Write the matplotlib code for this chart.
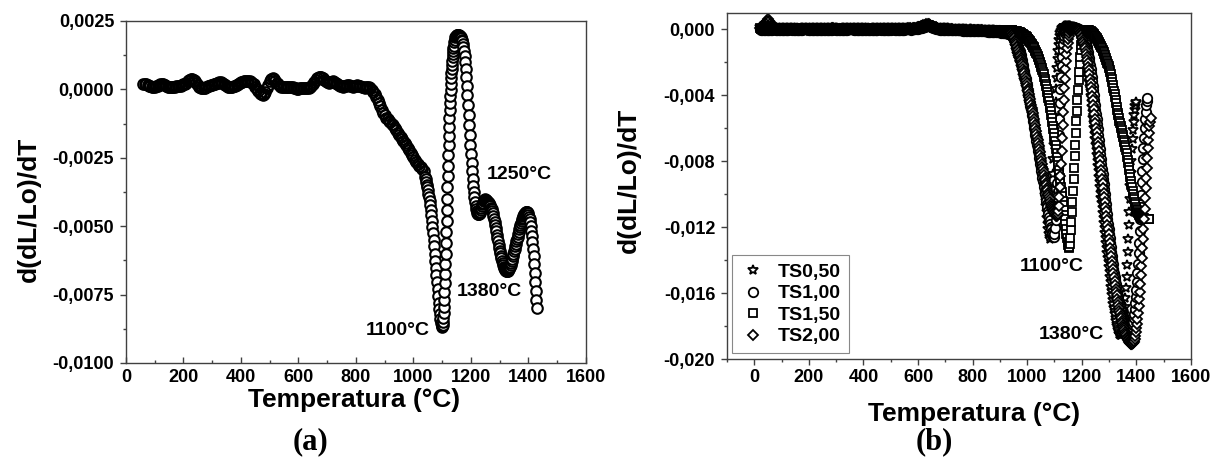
import numpy as np
import matplotlib
matplotlib.use("Agg")
from matplotlib import pyplot as plt
from matplotlib.ticker import MultipleLocator, FuncFormatter

plt.rcParams['font.family'] = ['Liberation Sans', 'DejaVu Sans']
plt.rcParams['font.weight'] = 'bold'
# keep every sample as its own marker
plt.rcParams['path.simplify'] = False

# ---- (a) single sample: temperature grid, denser where the curve moves fast
temp_a = np.concatenate([np.arange(60, 1040, 5), np.arange(1040, 1100, 2),
                         np.arange(1100, 1140, 1), np.arange(1140, 1432, 2)])
# d(dL/Lo)/dT, units of 1e-5
dl_a = np.array([
    18, 20, 19, 16, 13, 11, 9, 8, 9, 11, 14, 16, 18, 19, 18, 15, 12, 10, 9, 8,
    8, 9, 10, 11, 12, 12, 13, 15, 18, 21, 25, 30, 35, 38, 39, 36, 30, 23, 16, 10,
    6, 4, 4, 6, 9, 11, 13, 15, 17, 19, 21, 23, 25, 26, 26, 24, 20, 15, 11, 8,
    7, 8, 10, 12, 14, 17, 20, 23, 26, 28, 30, 31, 31, 30, 29, 27, 24, 18, 10, 2,
    -6, -12, -17, -19, -16, -8, 4, 17, 29, 37, 40, 38, 32, 25, 18, 13, 10, 8, 7, 7,
    8, 9, 10, 9, 7, 5, 4, 3, 3, 4, 5, 6, 6, 5, 5, 6, 8, 12, 18, 26,
    34, 41, 45, 47, 46, 42, 36, 30, 26, 25, 26, 28, 29, 28, 25, 21, 17, 13, 11, 10,
    11, 13, 15, 15, 13, 11, 10, 11, 13, 15, 14, 12, 9, 7, 6, 7, 8, 7, 4, -1,
    -8, -17, -27, -38, -50, -62, -74, -85, -95, -103, -110, -116, -121, -126, -132,
    -140, -149, -158, -166, -173,
    -180, -187, -195, -204, -213, -222, -231, -240, -249, -258, -266, -273, -279, -285,
    -292, -300,
    # 1040-1098
    -320, -329, -338, -348, -358, -369, -381, -394, -408, -423, -440, -459, -480, -502,
    -525, -549, -574, -600, -626, -652, -678, -704, -730, -755, -779, -801, -821, -839,
    -853, -863,
    # 1100-1139
    -868, -866, -860, -850, -836, -818, -796, -770, -741, -709, -675, -639, -601, -562,
    -522, -481, -440, -399, -358, -318, -279, -241, -204, -169, -136, -105, -76, -49,
    -24, -1, 20, 40, 58, 75, 90, 104, 117, 129, 140, 150,
    # 1140-1430
    159, 172, 182, 190, 195, 198, 200, 200, 199, 198,
    196, 194, 191, 187, 182, 175, 166, 155, 140, 122,
    100, 74, 45, 13, -21, -57, -94, -131, -167, -202,
    -236, -268, -298, -326, -352, -375, -395, -412, -426, -437,
    -445, -451, -455, -456, -455, -452, -447, -441, -434, -427,
    -420, -414, -409, -405, -403, -402, -403, -405, -408, -411,
    -414, -417, -420, -423, -427, -432, -438, -445, -453, -462,
    -472, -483, -495, -507, -519, -531, -543, -555, -567, -578,
    -589, -599, -609, -618, -627, -635, -642, -648, -653, -657,
    -660, -662, -663, -663, -662, -660, -657, -653, -648, -642,
    -635, -627, -619, -610, -601, -592, -583, -574, -565, -556,
    -547, -538, -529, -520, -511, -503, -495, -488, -481, -475,
    -469, -464, -459, -455, -452, -450, -449, -449, -450, -453,
    -458, -465, -474, -486, -500, -517, -536, -557, -582, -610,
    -640, -672, -705, -737, -769, -800,
]) * 1e-5

# ---- (b) four compositions, same units; 5 degC steps on the plateau, 2 degC after
temp_flat = np.arange(20, 940, 5)
temp_ts050 = np.concatenate([temp_flat, np.arange(940, 1401, 2)])
temp_ts100 = np.concatenate([temp_flat, np.arange(940, 1441, 2)])
temp_ts150 = np.concatenate([temp_flat, np.arange(940, 1449, 2)])
temp_ts200 = np.concatenate([temp_flat, np.arange(940, 1453, 2)])

ts050 = np.array([
    10, 9, 8, 7, 6, 6, 5, 5, 6, 7, 8, 9, 9, 8, 7, 6, 5, 4, 4, 5,
    6, 7, 8, 8, 7, 6, 5, 4, 3, 3, 4, 5, 6, 7, 8, 9, 9, 8, 7, 6,
    5, 5, 6, 7, 8, 8, 7, 6, 5, 4, 4, 5, 6, 7, 7, 6, 5, 4, 3, 3,
    4, 5, 6, 7, 8, 9, 9, 8, 7, 6, 5, 5, 6, 7, 8, 8, 7, 6, 5, 4,
    3, 3, 4, 5, 6, 7, 8, 8, 7, 6, 5, 4, 4, 5, 6, 7, 8, 9, 8, 7,
    6, 5, 5, 6, 7, 8, 8, 7, 6, 5, 5, 6, 7, 8, 9, 10, 11, 12, 13, 15,
    18, 21, 24, 26, 25, 22, 18, 14, 11, 9, 8, 7, 7, 6, 6, 5, 5, 4, 4, 3,
    3, 2, 2, 1, 1, 0, 0, -1, -1, -2, -2, -2, -3, -3, -2, -2, -3, -4, -4, -5,
    -5, -6, -6, -5, -5, -6, -7, -7, -8, -8, -7, -8, -9, -10, -10, -11, -12, -12, -13, -14,
    -16, -18, -21, -25,
    # 940-1400
    -30, -34, -40, -50, -60, -70, -80, -90, -100, -112,
    -125, -137, -150, -160, -170, -180, -190, -203, -215, -228,
    -240, -254, -268, -282, -296, -310, -324, -338, -352, -366,
    -380, -395, -410, -425, -440, -454, -468, -482, -497, -513,
    -530, -546, -563, -580, -596, -613, -630, -646, -663, -680,
    -697, -713, -730, -754, -778, -802, -826, -850, -874, -898,
    -922, -946, -970, -1005, -1040, -1075, -1110, -1145, -1180, -1213,
    -1245, -1262, -1270, -1215, -1140, -1055, -970, -880, -790, -700,
    -610, -525, -440, -365, -295, -235, -180, -135, -95, -65,
    -40, -24, -10, -2, 5, 9, 12, 14, 16, 17,
    18, 19, 20, 20, 20, 20, 19, 18, 17, 16,
    15, 14, 13, 12, 11, 10, 9, 8, 7, 6,
    4, 1, -2, -5, -8, -12, -16, -21, -27, -34,
    -42, -53, -65, -80, -95, -112, -130, -150, -170, -192,
    -215, -240, -265, -292, -320, -349, -378, -409, -440, -472,
    -505, -537, -570, -602, -635, -667, -700, -732, -765, -797,
    -830, -862, -895, -927, -960, -991, -1022, -1053, -1084, -1114,
    -1145, -1175, -1205, -1235, -1265, -1295, -1325, -1355, -1385, -1415,
    -1445, -1475, -1505, -1534, -1562, -1589, -1615, -1640, -1665, -1688,
    -1710, -1730, -1750, -1768, -1785, -1800, -1815, -1827, -1838, -1846,
    -1852, -1855, -1855, -1850, -1840, -1822, -1800, -1768, -1730, -1683,
    -1630, -1568, -1500, -1428, -1350, -1272, -1190, -1110, -1030, -950,
    -870, -798, -730, -668, -610, -562, -520, -490, -465, -450,
    -440,
]) * 1e-5

ts100 = np.array([
    -2, -3, -4, -5, -5, -6, -6, -5, -4, -3, -2, -2, -3, -4, -5, -6, -7, -7, -6, -5,
    -4, -3, -2, -2, -3, -4, -5, -6, -6, -5, -4, -3, -2, -1, -1, -2, -3, -4, -5, -6,
    -7, -7, -6, -5, -4, -3, -3, -4, -5, -6, -6, -5, -4, -3, -2, -2, -3, -4, -5, -5,
    -6, -6, -5, -4, -3, -2, -1, -1, -2, -3, -4, -5, -6, -7, -7, -6, -5, -4, -3, -3,
    -4, -5, -6, -6, -5, -4, -3, -2, -2, -3, -4, -5, -6, -6, -5, -4, -3, -2, -2, -3,
    -4, -5, -6, -6, -5, -4, -3, -2, -1, -1, -2, -3, -2, -1, 0, 1, 3, 5, 7, 9,
    12, 15, 18, 20, 19, 16, 12, 8, 4, 1, -1, -2, -3, -3, -4, -4, -5, -5, -6, -6,
    -6, -7, -7, -8, -8, -8, -9, -9, -9, -10, -10, -10, -11, -11, -11, -12, -12, -12, -13, -13,
    -13, -14, -14, -14, -15, -15, -15, -16, -16, -17, -17, -18, -18, -19, -20, -20, -21, -22, -23, -24,
    -25, -27, -29, -32,
    # 940-1440
    -20, -24, -28, -32, -36, -42, -48, -55, -62, -70,
    -78, -86, -95, -105, -115, -125, -135, -147, -160, -175,
    -190, -205, -220, -236, -252, -268, -285, -302, -320, -338,
    -356, -374, -392, -410, -428, -446, -464, -482, -500, -520,
    -540, -560, -580, -600, -620, -640, -660, -680, -700, -720,
    -740, -760, -780, -800, -820, -840, -860, -880, -900, -920,
    -940, -960, -980, -1000, -1020, -1040, -1060, -1080, -1100, -1120,
    -1140, -1160, -1180, -1198, -1215, -1230, -1245, -1255, -1262, -1258,
    -1240, -1206, -1160, -1095, -1020, -935, -840, -740, -640, -543,
    -450, -365, -290, -225, -170, -126, -90, -62, -40, -26,
    -15, -8, -3, 1, 4, 6, 8, 9, 10, 10,
    11, 11, 11, 11, 10, 10, 9, 8, 7, 6,
    5, 4, 2, 0, -2, -4, -6, -9, -12, -16,
    -20, -26, -32, -40, -48, -58, -68, -80, -92, -106,
    -120, -137, -155, -175, -195, -217, -240, -265, -290, -317,
    -345, -372, -400, -429, -458, -488, -518, -548, -578, -609,
    -640, -670, -700, -730, -760, -790, -820, -850, -880, -910,
    -940, -970, -1000, -1030, -1060, -1090, -1120, -1150, -1180, -1210,
    -1240, -1268, -1296, -1323, -1350, -1376, -1402, -1427, -1452, -1476,
    -1500, -1523, -1545, -1565, -1585, -1603, -1620, -1636, -1652, -1666,
    -1680, -1693, -1705, -1717, -1728, -1738, -1748, -1757, -1765, -1773,
    -1780, -1787, -1793, -1799, -1805, -1810, -1815, -1819, -1822, -1822,
    -1820, -1814, -1805, -1792, -1775, -1752, -1725, -1695, -1660, -1622,
    -1580, -1532, -1480, -1422, -1360, -1294, -1225, -1153, -1080, -1005,
    -930, -860, -790, -724, -660, -600, -545, -500, -460, -436,
    -420,
]) * 1e-5

ts150 = np.array([
    4, 3, 2, 1, 1, 2, 3, 4, 4, 3, 2, 1, 0, 0, 1, 2, 3, 4, 5, 5,
    4, 3, 2, 1, 0, -1, -1, 0, 1, 2, 3, 4, 4, 3, 2, 1, 1, 2, 3, 4,
    5, 5, 4, 3, 2, 1, 0, 0, 1, 2, 3, 4, 5, 5, 4, 3, 2, 1, 1, 2,
    3, 4, 4, 3, 2, 1, 0, -1, -1, 0, 1, 2, 3, 4, 5, 5, 4, 3, 2, 1,
    1, 2, 3, 4, 4, 3, 2, 1, 0, 0, 1, 2, 3, 4, 5, 5, 4, 3, 2, 2,
    3, 4, 5, 5, 4, 3, 2, 2, 3, 4, 5, 6, 6, 5, 5, 6, 7, 9, 11, 13,
    16, 19, 22, 24, 23, 20, 16, 12, 9, 7, 5, 4, 4, 3, 3, 2, 2, 1, 1, 0,
    0, 0, -1, -1, -1, -2, -2, -2, -3, -3, -3, -3, -4, -4, -4, -4, -5, -5, -5, -5,
    -6, -6, -6, -6, -7, -7, -7, -7, -8, -8, -8, -8, -8, -9, -9, -9, -9, -9, -9, -9,
    -9, -9, -9, -9,
    # 940-1448
    -8, -8, -9, -9, -10, -10, -11, -11, -12, -13,
    -14, -15, -16, -17, -18, -19, -21, -22, -24, -26,
    -28, -30, -32, -34, -37, -40, -42, -45, -48, -51,
    -55, -58, -62, -66, -70, -74, -79, -84, -89, -94,
    -100, -106, -112, -118, -125, -132, -139, -146, -154, -162,
    -170, -179, -188, -197, -207, -217, -228, -239, -250, -262,
    -275, -288, -302, -317, -332, -348, -364, -382, -400, -419,
    -438, -458, -478, -499, -520, -541, -563, -585, -608, -631,
    -655, -679, -703, -727, -752, -777, -802, -827, -853, -879,
    -905, -931, -958, -985, -1012, -1040, -1068, -1096, -1125, -1153,
    -1182, -1211, -1240, -1267, -1292, -1312, -1325, -1320, -1300, -1265,
    -1220, -1168, -1110, -1047, -980, -910, -840, -770, -700, -630,
    -560, -494, -430, -368, -310, -258, -210, -167, -130, -98,
    -70, -50, -35, -24, -15, -11, -8, -6, -5, -5,
    -6, -7, -8, -9, -11, -13, -15, -17, -20, -23,
    -26, -29, -33, -37, -41, -45, -50, -55, -60, -65,
    -71, -77, -83, -89, -96, -103, -110, -117, -125, -133,
    -141, -149, -158, -167, -176, -185, -195, -205, -215, -225,
    -236, -248, -260, -274, -288, -304, -320, -338, -356, -375,
    -394, -413, -432, -451, -470, -488, -506, -523, -540, -556,
    -572, -586, -600, -614, -628, -642, -656, -671, -686, -702,
    -718, -736, -754, -774, -794, -815, -836, -857, -878, -899,
    -920, -940, -960, -979, -998, -1016, -1033, -1049, -1063, -1076,
    -1088, -1098, -1107, -1115, -1121, -1127, -1131, -1135, -1138, -1141,
    -1143, -1145, -1146, -1147, -1148, -1149, -1150, -1151, -1151, -1152,
    -1150, -1153, -1151, -1154, -1150,
]) * 1e-5

ts200 = np.array([
    6, 10, 16, 26, 38, 50, 58, 50, 36, 22, 12, 6, 3, 1, 0, 0, 1, 2, 2, 1,
    0, -1, -2, -2, -1, 0, 1, 2, 3, 3, 2, 1, 0, -1, -2, -3, -3, -2, -1, 0,
    1, 2, 3, 3, 2, 1, 0, -1, -1, 0, 1, 2, 3, 4, 4, 3, 2, 1, 0, -1,
    -2, -2, -1, 0, 1, 2, 3, 3, 2, 1, 0, -1, -2, -2, -1, 0, 1, 2, 3, 3,
    2, 1, 0, -1, -2, -3, -3, -2, -1, 0, 1, 2, 3, 3, 2, 1, 0, 0, 1, 2,
    3, 3, 2, 1, 0, 0, 1, 2, 3, 4, 4, 3, 4, 5, 6, 8, 10, 13, 16, 19,
    22, 25, 28, 30, 28, 24, 19, 14, 10, 7, 5, 3, 2, 1, 1, 0, 0, -1, -1, -2,
    -2, -2, -3, -3, -3, -4, -4, -4, -5, -5, -5, -5, -6, -6, -6, -7, -7, -7, -8, -8,
    -8, -9, -9, -9, -10, -10, -10, -11, -11, -12, -12, -12, -13, -13, -14, -14, -15, -16, -16, -17,
    -18, -19, -20, -20,
    # 940-1452
    -20, -25, -30, -36, -42, -49, -56, -64, -72, -81,
    -90, -100, -110, -120, -130, -141, -152, -164, -176, -188,
    -200, -213, -226, -240, -254, -268, -283, -298, -314, -330,
    -346, -362, -378, -394, -410, -426, -442, -459, -476, -493,
    -510, -528, -546, -564, -582, -600, -618, -636, -654, -672,
    -690, -708, -726, -744, -762, -780, -798, -816, -834, -851,
    -868, -884, -900, -916, -932, -948, -963, -978, -992, -1006,
    -1020, -1033, -1046, -1058, -1070, -1080, -1090, -1098, -1106, -1112,
    -1118, -1123, -1128, -1131, -1134, -1130, -1120, -1100, -1070, -1020,
    -960, -893, -820, -742, -660, -580, -500, -428, -360, -300,
    -245, -195, -150, -115, -85, -60, -40, -26, -15, -8,
    -3, 0, 2, 4, 5, 5, 5, 4, 3, 2,
    0, -2, -4, -7, -10, -14, -18, -24, -30, -38,
    -46, -56, -66, -78, -90, -104, -118, -134, -150, -167,
    -185, -206, -228, -251, -275, -300, -325, -351, -378, -405,
    -432, -460, -487, -515, -543, -571, -600, -627, -655, -683,
    -712, -740, -768, -796, -824, -852, -880, -908, -936, -964,
    -992, -1020, -1048, -1076, -1104, -1132, -1160, -1188, -1215, -1242,
    -1270, -1298, -1325, -1352, -1378, -1404, -1430, -1455, -1480, -1504,
    -1528, -1551, -1573, -1594, -1615, -1635, -1654, -1672, -1690, -1707,
    -1723, -1738, -1753, -1767, -1780, -1792, -1804, -1815, -1826, -1836,
    -1846, -1855, -1864, -1872, -1880, -1887, -1893, -1898, -1903, -1906,
    -1908, -1909, -1908, -1906, -1903, -1897, -1890, -1877, -1860, -1839,
    -1815, -1787, -1755, -1719, -1680, -1637, -1592, -1543, -1492, -1439,
    -1385, -1328, -1270, -1210, -1150, -1088, -1025, -962, -900, -840,
    -780, -724, -670, -628, -590, -562, -540,
]) * 1e-5

series_names = ["TS0,50", "TS1,00", "TS1,50", "TS2,00"]
series_temps = [temp_ts050, temp_ts100, temp_ts150, temp_ts200]
series_vals = [ts050, ts100, ts150, ts200]
series_markers = ["*", "o", "s", "D"]
series_msize = [7.5, 6.8, 5.8, 5.4]

spine_col = "#404040"


def comma_fmt(decimals):
    def f(v, pos):
        s = "%.*f" % (decimals, v)
        if float(s) == 0:
            s = "%.*f" % (decimals, 0.0)
        return s.replace(".", ",")
    return FuncFormatter(f)


def style_axes(ax, xdir, xpad):
    for sp in ax.spines.values():
        sp.set_color(spine_col)
        sp.set_linewidth(1.0)
    ax.tick_params(axis="y", which="both", direction="out", color=spine_col,
                   labelsize=13, pad=4)
    ax.tick_params(axis="y", which="major", length=4.5, width=1.0)
    ax.tick_params(axis="y", which="minor", length=2.5, width=1.0)
    ax.tick_params(axis="x", which="both", direction=xdir, color=spine_col,
                   labelsize=13, pad=xpad)
    ax.tick_params(axis="x", which="major", length=4.5, width=1.0)
    ax.tick_params(axis="x", which="minor", length=2.5, width=1.0)
    for lab in ax.get_xticklabels() + ax.get_yticklabels():
        lab.set_fontweight("bold")


fig = plt.figure(figsize=(12.23, 4.68), dpi=100)

# ---- panel (a): on the plateau the open rings pile up into a solid band,
# past 1040 degC the circles are white-filled so they stack like coins
ax1 = fig.add_axes([0.1030, 0.2244, 0.3761, 0.7308])
plateau_a = temp_a < 1040
ax1.plot(temp_a[plateau_a], dl_a[plateau_a], ls="none", marker="o", ms=7.6,
         mfc="none", mec="black", mew=1.5)
ax1.plot(temp_a[~plateau_a], dl_a[~plateau_a], ls="none", marker="o", ms=7.6,
         mfc="white", mec="black", mew=1.5)
ax1.set_xlim(0, 1600)
ax1.set_ylim(-0.0100, 0.0025)
ax1.xaxis.set_major_locator(MultipleLocator(200))
ax1.xaxis.set_minor_locator(MultipleLocator(100))
ax1.yaxis.set_major_locator(MultipleLocator(0.0025))
ax1.yaxis.set_minor_locator(MultipleLocator(0.00125))
ax1.yaxis.set_major_formatter(comma_fmt(4))
style_axes(ax1, "in", 4)

ax1.text(1057, -0.0088, "1100°C", ha="right", va="center", fontsize=14, fontweight="bold")
ax1.text(1256, -0.0031, "1250°C", ha="left", va="center", fontsize=14, fontweight="bold")
ax1.text(1151, -0.0074, "1380°C", ha="left", va="center", fontsize=14, fontweight="bold")

ax1.set_xlabel("Temperatura (°C)", fontsize=19, fontweight="bold", va="center")
ax1.xaxis.set_label_coords(0.496, -0.108)
ax1.set_ylabel("d(dL/Lo)/dT", fontsize=19, fontweight="bold", va="center")
ax1.yaxis.set_label_coords(-0.211, 0.45)

# ---- panel (b)
ax2 = fig.add_axes([0.5944, 0.2329, 0.3794, 0.7393])
for t, v, name, mk, ms in zip(series_temps, series_vals, series_names,
                              series_markers, series_msize):
    flat = t < 940
    ax2.plot(t[flat], v[flat], ls="none", marker=mk, ms=ms, mfc="none",
             mec="black", mew=1.3)
    ax2.plot(t[~flat], v[~flat], ls="none", marker=mk, ms=ms, mfc="white",
             mec="black", mew=1.3, label=name)
ax2.set_xlim(-100, 1600)
ax2.set_ylim(-0.020, 0.00097)
ax2.xaxis.set_major_locator(MultipleLocator(200))
ax2.xaxis.set_minor_locator(MultipleLocator(100))
ax2.yaxis.set_major_locator(MultipleLocator(0.004))
ax2.yaxis.set_minor_locator(MultipleLocator(0.002))
ax2.yaxis.set_major_formatter(comma_fmt(3))
style_axes(ax2, "out", 2.5)

ax2.text(971, -0.0144, "1100°C", ha="left", va="center", fontsize=14, fontweight="bold")
ax2.text(1044, -0.0185, "1380°C", ha="left", va="center", fontsize=14, fontweight="bold")

leg = ax2.legend(loc="lower left", bbox_to_anchor=(0.011, 0.017), borderaxespad=0,
                 fancybox=False, edgecolor="#888888", framealpha=1,
                 prop={"size": 14, "weight": "bold"}, handlelength=1.4,
                 handletextpad=0.57, labelspacing=0.2, borderpad=0.4)
leg.get_frame().set_linewidth(0.8)

ax2.set_xlabel("Temperatura (°C)", fontsize=19, fontweight="bold", va="center")
ax2.xaxis.set_label_coords(0.532, -0.159)
ax2.set_ylabel("d(dL/Lo)/dT", fontsize=19, fontweight="bold", va="center")
ax2.yaxis.set_label_coords(-0.211, 0.517)

fig.text(311 / 1223, 1 - 442 / 468, "(a)", ha="center", va="center",
         fontsize=22, fontweight="bold", family=["Liberation Serif", "DejaVu Serif"])
fig.text(934 / 1223, 1 - 442 / 468, "(b)", ha="center", va="center",
         fontsize=22, fontweight="bold", family=["Liberation Serif", "DejaVu Serif"])

fig.savefig("out.png", dpi=100)
